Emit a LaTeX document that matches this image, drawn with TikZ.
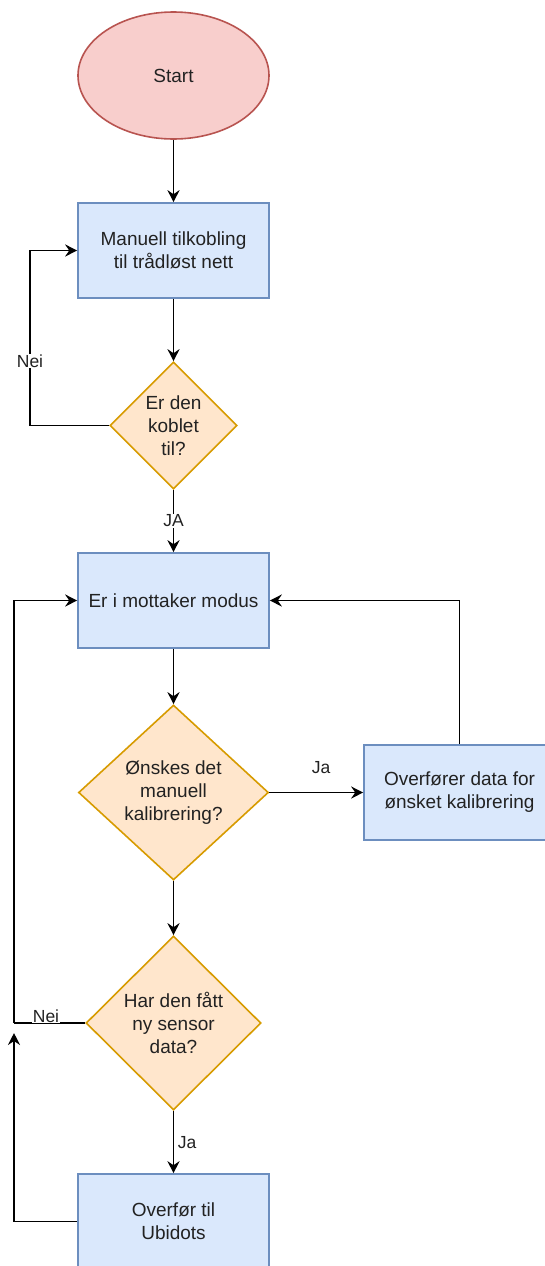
\documentclass[tikz,border=0pt]{standalone}
\usepackage{fontspec}
\setmainfont{Liberation Sans}
\usetikzlibrary{shapes.geometric,arrows.meta}
\definecolor{rfill}{HTML}{F8CECC}
\definecolor{rline}{HTML}{B85450}
\definecolor{bfill}{HTML}{DAE8FC}
\definecolor{bline}{HTML}{6C8EBF}
\definecolor{ofill}{HTML}{FFE6CC}
\definecolor{oline}{HTML}{D79B00}
\definecolor{txt}{HTML}{222222}
\tikzset{
  base/.style={line width=1.6pt, inner sep=0pt, align=center, text=txt, font=\fontsize{19}{23}\selectfont},
  startshape/.style={base, ellipse, draw=rline, fill=rfill, minimum width=191pt, minimum height=127pt},
  procbox/.style={base, rectangle, draw=bline, fill=bfill, minimum width=191pt, minimum height=95pt},
  decision/.style={base, diamond, draw=oline, fill=ofill},
  conn/.style={line width=1.7pt, draw=black, -{Stealth[length=12pt,width=12pt,inset=4pt]}},
  plainconn/.style={line width=1.7pt, draw=black},
  elabel/.style={fill=white, inner sep=1pt, text=txt, font=\fontsize{17.5}{21}\selectfont}
}
\begin{document}
\begin{tikzpicture}[x=1pt,y=-1pt]
\useasboundingbox (0,0) rectangle (544,1266);

\node[startshape] (start) at (173.5,75.5) {Start};
\node[procbox] (box1) at (173.5,250.5) {Manuell tilkobling\\til trådløst nett};
\node[decision, minimum width=127pt, minimum height=127pt] (d1) at (173.5,425.5) {Er den\\koblet\\til?};
\node[procbox] (box2) at (173.5,600.5) {Er i mottaker modus};
\node[decision, minimum width=190pt, minimum height=175pt] (d2) at (173.5,792.5) {Ønskes det\\manuell\\kalibrering?};
\node[procbox] (box3) at (459.5,792.5) {Overfører data for\\ønsket kalibrering};
\node[decision, minimum width=175pt, minimum height=174pt] (d3) at (173.5,1023) {Har den fått\\ny sensor\\data?};
\node[procbox] (box4) at (173.5,1221.5) {Overfør til\\Ubidots};

\coordinate (n1) at (30,425.5);
\coordinate (n3) at (14,1023);
\coordinate (up4) at (14,1033);
\coordinate (b4l) at (14,1221.5);

\draw[conn] (start) -- (box1);
\draw[conn] (box1) -- (d1);
\draw[plainconn] (d1.west) -- (n1);
\draw[conn] (n1) |- (box1.west);
\node[elabel] (lnei1) at (30,361) {Nei};
\draw[conn] (d1) -- (box2);
\node[elabel] (lja1) at (173.5,521) {JA};
\draw[conn] (box2) -- (d2);
\draw[conn] (d2.east) -- (box3.west);
\node[elabel] (lja2) at (321,768) {Ja};
\draw[conn] (box3.north) |- (box2.east);
\draw[conn] (d2) -- (d3);
\draw[plainconn] (d3.west) -- (n3);
\draw[conn] (n3) |- (box2.west);
\node[elabel] (lnei2) at (46,1016) {Nei};
\draw[conn] (d3) -- (box4);
\node[elabel, fill=none] (lja3) at (187,1143) {Ja};
\draw[plainconn] (box4.west) -- (b4l);
\draw[conn] (b4l) -- (up4);
\end{tikzpicture}
\end{document}
